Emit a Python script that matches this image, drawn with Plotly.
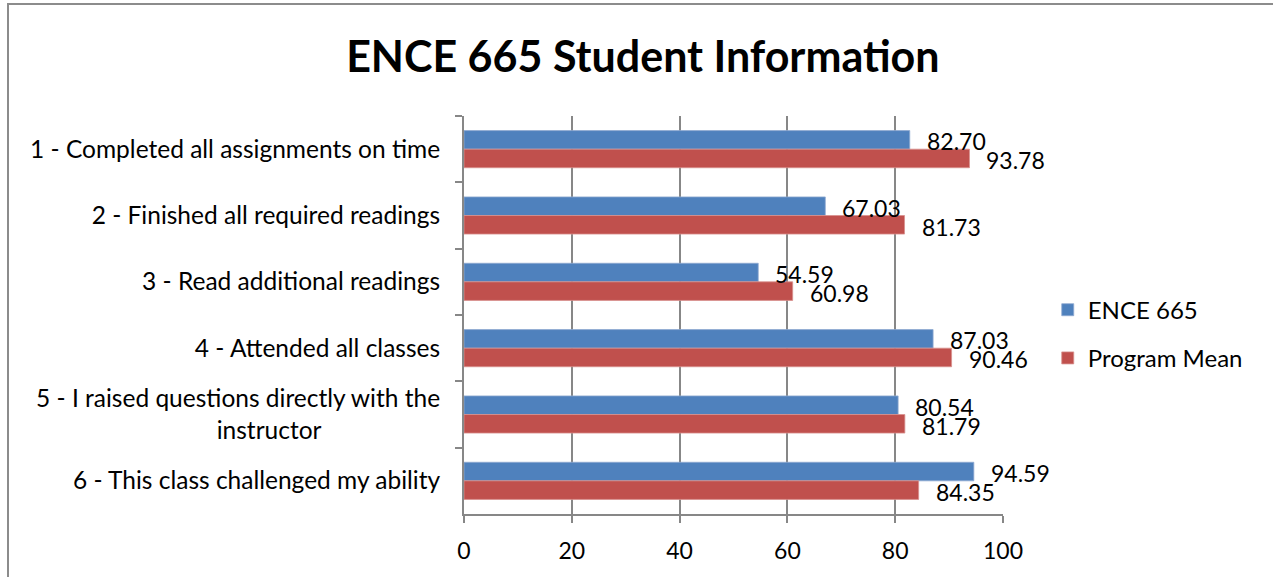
import plotly.graph_objects as go

categories = [
    "1 - Completed all assignments on time",
    "2 - Finished all required readings",
    "3 - Read additional readings",
    "4 - Attended all classes",
    "5 - I raised questions directly with the<br>instructor" + "\u00a0" * 19,
    "6 - This class challenged my ability",
]
ence_665 = [82.70, 67.03, 54.59, 87.03, 80.54, 94.59]
program_mean = [93.78, 81.73, 60.98, 90.46, 81.79, 84.35]
x_ticks = [0, 20, 40, 60, 80, 100]

FONT = "Lato"
GRAY = "#878787"
BLUE = "#4F81BD"
RED = "#C0504D"

fig = go.Figure()
fig.add_trace(go.Bar(
    y=categories, x=ence_665, orientation="h", name="ENCE 665",
    marker=dict(color=BLUE, line=dict(color="#8FA9D0", width=0.8)),
    legendgroup="a",
))
fig.add_trace(go.Bar(
    y=categories, x=program_mean, orientation="h", name="Program Mean",
    marker=dict(color=RED, line=dict(color="#D8908E", width=0.8)),
    legendgroup="b",
))

annotations = []
for cat, v in zip(categories, ence_665):
    annotations.append(dict(x=v, y=cat, xref="x", yref="y", text=f"{v:.2f}",
                            showarrow=False, xanchor="left", yanchor="middle",
                            xshift=15, yshift=8, font=dict(family=FONT, size=23, color="#000")))
for cat, v in zip(categories, program_mean):
    annotations.append(dict(x=v, y=cat, xref="x", yref="y", text=f"{v:.2f}",
                            showarrow=False, xanchor="left", yanchor="middle",
                            xshift=15, yshift=-11, font=dict(family=FONT, size=23, color="#000")))

fig.update_layout(
    width=1273, height=577,
    margin=dict(l=464, r=270, t=116, b=63),
    paper_bgcolor="white", plot_bgcolor="white",
    barmode="group", bargap=0.44, bargroupgap=0,
    title=dict(text="<b>ENCE 665 Student Information</b>", x=0.505, xanchor="center",
               y=0.902, yanchor="middle", font=dict(family=FONT, size=43, color="#000")),
    font=dict(family=FONT, size=24.5, color="#000"),
    legend=dict(x=1.083, xanchor="left", y=0.452, yanchor="middle",
                font=dict(family=FONT, size=24, color="#000"),
                tracegroupgap=14, itemwidth=30, bgcolor="rgba(0,0,0,0)"),
    annotations=annotations,
    shapes=[dict(type="rect", xref="paper", yref="paper",
                 x0=(8 - 464) / 539, x1=(1290 - 464) / 539,
                 y0=(514 - 600) / 398, y1=(514 - 4) / 398,
                 line=dict(color="#8c8c8c", width=2), layer="below")],
)
fig.update_xaxes(
    range=[0, 100], tickvals=x_ticks, ticktext=[str(t) for t in x_ticks],
    showgrid=True, gridcolor=GRAY, gridwidth=1.5,
    showline=True, linecolor=GRAY, linewidth=2,
    ticks="outside", ticklen=7, tickcolor=GRAY, tickwidth=2,
    tickfont=dict(family=FONT, size=23, color="#000"), ticklabelstandoff=8,
    zeroline=False,
)
fig.update_yaxes(
    autorange="reversed", type="category",
    showline=True, linecolor=GRAY, linewidth=2,
    ticks="outside", ticklen=7, tickcolor=GRAY, tickwidth=2, tickson="boundaries",
    tickfont=dict(family=FONT, size=24.5, color="#000"), ticklabelstandoff=17,
    showgrid=False,
)
fig.write_html("out.html", config={"displayModeBar": False},
               post_script="document.body.style.margin='0';")
